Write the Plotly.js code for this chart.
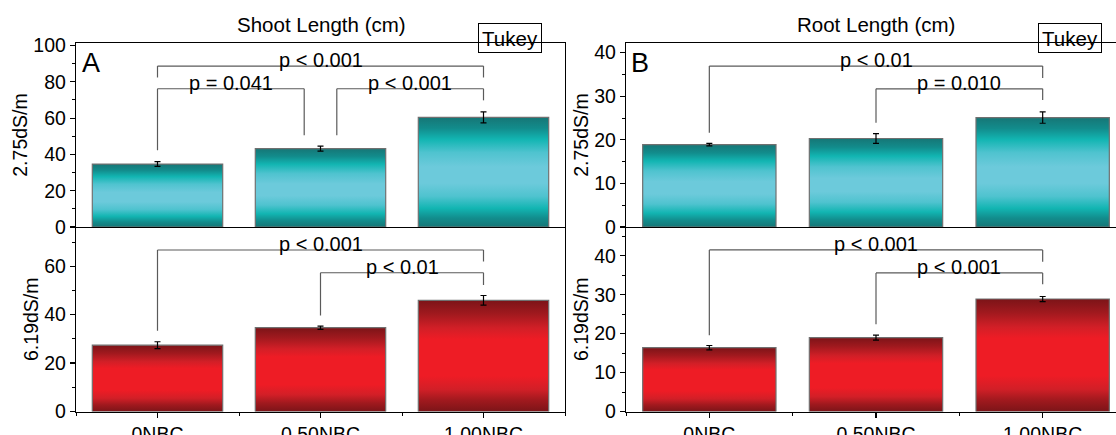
<!DOCTYPE html>
<html>
<head>
<meta charset="utf-8">
<script src="https://cdn.plot.ly/plotly-3.0.1.min.js"></script>
<style>
html,body{margin:0;padding:0;background:#fff;}
#chart{width:1116px;height:435px;}
</style>
</head>
<body>
<div id="chart"></div>
<script>
// ---------------- data ----------------
const categories = ['0NBC', '0.50NBC', '1.00NBC'];
const shoot275 = [34.7, 43.2, 60.4];
const shoot275Err = [1.3, 1.4, 3.0];
const shoot619 = [27.4, 34.6, 45.9];
const shoot619Err = [1.4, 0.7, 2.0];
const root275 = [18.9, 20.3, 25.1];
const root275Err = [0.3, 1.1, 1.3];
const root619 = [16.4, 19.0, 28.9];
const root619Err = [0.56, 0.64, 0.65];
const pShoot275 = ['p < 0.001', 'p = 0.041', 'p < 0.001'];
const pShoot619 = ['p < 0.001', 'p < 0.01'];
const pRoot275 = ['p < 0.01', 'p = 0.010'];
const pRoot619 = ['p < 0.001', 'p < 0.001'];

// ---------------- layout helpers ----------------
const W = 1116, H = 435;
const FONT = 'Liberation Sans, Arial, sans-serif';
const idx = categories.map((c, i) => i);
const px = v => v / W;
const py = v => 1 - v / H;

const topDom = [py(227), py(43)];
const botDom = [py(411.5), py(227)];
const leftDom = [px(76), px(565)];
const rightDom = [px(626), 1];

const TEAL = '#3fbcc6';
const RED = '#d81e26';

function barTrace(vals, errs, xa, ya, color) {
  return {
    type: 'bar', x: idx, y: vals, xaxis: xa, yaxis: ya, width: 0.8,
    marker: {color: color, line: {color: '#707070', width: 1.2}},
    error_y: {type: 'data', array: errs, visible: true, color: '#000', thickness: 1.2, width: 3},
    hoverinfo: 'skip', showlegend: false
  };
}

const data = [
  barTrace(shoot619, shoot619Err, 'x', 'y', RED),
  barTrace(shoot275, shoot275Err, 'x2', 'y2', TEAL),
  barTrace(root619, root619Err, 'x3', 'y3', RED),
  barTrace(root275, root275Err, 'x4', 'y4', TEAL)
];

function xAxis(dom, range, bottom, anchor) {
  const a = {
    domain: dom, range: range, anchor: anchor, type: 'linear',
    showline: true, linecolor: '#000', linewidth: 1.2, showgrid: false, zeroline: false,
    fixedrange: true
  };
  if (bottom) {
    Object.assign(a, {
      tickmode: 'array', tickvals: idx, ticktext: categories,
      ticks: 'outside', ticklen: 5, tickwidth: 1.2, tickcolor: '#000',
      tickfont: {family: FONT, size: 19.5, color: '#000'},
      minor: {tickmode: 'array', tickvals: [-0.5, 0.5, 1.5, 2.5], ticks: 'outside', ticklen: 3, tickwidth: 1, tickcolor: '#000'}
    });
  } else {
    Object.assign(a, {showticklabels: false, ticks: '', mirror: true});
  }
  return a;
}

function yAxis(dom, range, dtick, title, anchor) {
  return {
    domain: dom, range: range, anchor: anchor,
    showline: true, linecolor: '#000', linewidth: 1.2, mirror: true,
    showgrid: false, zeroline: false, fixedrange: true,
    tickmode: 'linear', tick0: 0, dtick: dtick,
    ticks: 'outside', ticklen: 5, tickwidth: 1.2, tickcolor: '#000',
    tickfont: {family: FONT, size: 19.5, color: '#000'},
    minor: {dtick: dtick / 2, ticks: 'outside', ticklen: 3, tickwidth: 1, tickcolor: '#000'},
    title: {text: title, font: {family: FONT, size: 19.5, color: '#000'}, standoff: 0}
  };
}

// brackets: [from, to, level, left leg end, right leg end]
const brShoot275 = [[0, 2, 88.7, 82.4, 82.4], [0, 0.9, 76.2, 42.3, 50.5], [1.1, 2, 76.2, 50.5, 69.8]];
const brShoot619 = [[0, 2, 66.7, 33.3, 61.9], [1, 2, 57.3, 39.6, 52.2]];
const brRoot275 = [[0, 2, 36.9, 21.6, 34.2], [1, 2, 31.7, 23.9, 29.1]];
const brRoot619 = [[0, 2, 41.5, 19.6, 38.5], [1, 2, 35.6, 22.4, 32.7]];

const shapes = [];
const annotations = [];
function addBrackets(list, texts, xr, yr) {
  list.forEach((b, i) => {
    const [x0, x1, lv, yl, yr2] = b;
    const ln = {type: 'line', xref: xr, yref: yr, line: {color: '#5a5a5a', width: 1.2}};
    shapes.push(Object.assign({x0: x0, x1: x0, y0: yl, y1: lv}, ln));
    shapes.push(Object.assign({x0: x0, x1: x1, y0: lv, y1: lv}, ln));
    shapes.push(Object.assign({x0: x1, x1: x1, y0: lv, y1: yr2}, ln));
    annotations.push({
      xref: xr, yref: yr, x: (x0 + x1) / 2, y: lv, text: texts[i], showarrow: false,
      xanchor: 'center', yanchor: 'bottom', yshift: -7,
      font: {family: FONT, size: 20, color: '#000'}
    });
  });
}
addBrackets(brShoot275, pShoot275, 'x2', 'y2');
addBrackets(brShoot619, pShoot619, 'x', 'y');
addBrackets(brRoot275, pRoot275, 'x4', 'y4');
addBrackets(brRoot619, pRoot619, 'x3', 'y3');

function paperText(text, x, y, size, xanchor, extra) {
  annotations.push(Object.assign({
    xref: 'paper', yref: 'paper', x: x, y: y, text: text, showarrow: false,
    xanchor: xanchor, yanchor: 'middle', font: {family: FONT, size: size, color: '#000'}
  }, extra || {}));
}
paperText('Shoot Length (cm)', px(321), py(24), 20.5, 'center');
paperText('Root Length (cm)', px(876), py(24), 20.5, 'center');
paperText('A', px(80), py(63), 27, 'left');
paperText('B', px(629), py(63), 27, 'left');
paperText('Tukey', px(510), py(38), 20.5, 'center', {bordercolor: '#000', borderwidth: 1, borderpad: 0, width: 62, height: 28});
paperText('Tukey', px(1069.5), py(38), 20.5, 'center', {bordercolor: '#000', borderwidth: 1, borderpad: 0, width: 62, height: 28});

const layout = {
  width: W, height: H,
  margin: {l: 0, r: 0, t: 0, b: 0},
  paper_bgcolor: '#fff', plot_bgcolor: '#fff',
  font: {family: FONT, color: '#000'},
  bargap: 0.2,
  xaxis: xAxis(leftDom, [-0.5, 2.5], true, 'y'),
  yaxis: yAxis(botDom, [0, 76.2], 20, '6.19dS/m', 'x'),
  xaxis2: xAxis(leftDom, [-0.5, 2.5], false, 'y2'),
  yaxis2: yAxis(topDom, [0, 101.4], 20, '2.75dS/m', 'x2'),
  xaxis3: xAxis(rightDom, [-0.5, 2.44], true, 'y3'),
  yaxis3: yAxis(botDom, [0, 47.4], 10, '6.19dS/m', 'x3'),
  xaxis4: xAxis(rightDom, [-0.5, 2.44], false, 'y4'),
  yaxis4: yAxis(topDom, [0, 42.2], 10, '2.75dS/m', 'x4'),
  shapes: shapes,
  annotations: annotations
};

function applyGradients(gd) {
  const svg = gd.querySelector('svg.main-svg');
  if (!svg) return;
  const NS = 'http://www.w3.org/2000/svg';
  let defs = svg.querySelector('defs');
  if (!defs) { defs = document.createElementNS(NS, 'defs'); svg.insertBefore(defs, svg.firstChild); }
  function grad(id, stops) {
    const g = document.createElementNS(NS, 'linearGradient');
    g.setAttribute('id', id);
    g.setAttribute('x1', '0'); g.setAttribute('y1', '0');
    g.setAttribute('x2', '0'); g.setAttribute('y2', '1');
    stops.forEach(s => {
      const st = document.createElementNS(NS, 'stop');
      st.setAttribute('offset', s[0]);
      st.setAttribute('stop-color', s[1]);
      g.appendChild(st);
    });
    defs.appendChild(g);
  }
  grad('tealGrad', [[0, '#167676'], [0.1, '#128c8c'], [0.2, '#12b5b2'], [0.32, '#4fc3cf'], [0.45, '#6ccadb'],
                    [0.6, '#6ccadb'], [0.72, '#4fc3cf'], [0.83, '#12b5b2'], [0.92, '#128c8c'], [1, '#167676']]);
  grad('redGrad', [[0, '#7c1418'], [0.12, '#a0191e'], [0.25, '#d21f27'], [0.35, '#ee1c25'],
                   [0.68, '#ee1c25'], [0.8, '#d21f27'], [0.9, '#a0191e'], [1, '#7c1418']]);
  gd.querySelectorAll('g.trace.bars').forEach((tr, i) => {
    const d = gd._fullData[i];
    const id = (d && d.marker.color === RED) ? 'redGrad' : 'tealGrad';
    tr.querySelectorAll('g.point path').forEach(p => { p.style.fill = 'url(#' + id + ')'; });
  });
}

Plotly.newPlot('chart', data, layout, {staticPlot: true, displayModeBar: false}).then(applyGradients);
</script>
</body>
</html>
